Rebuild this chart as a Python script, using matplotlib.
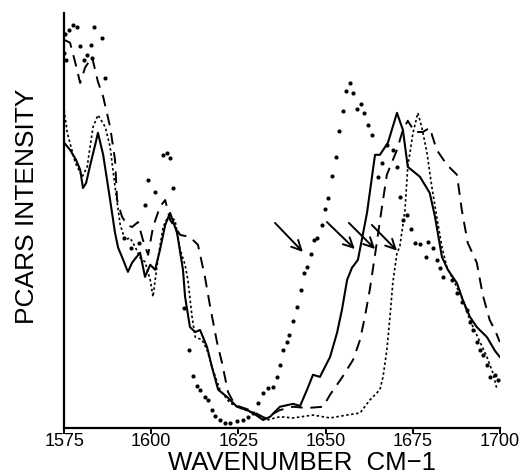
import numpy as np
import matplotlib
matplotlib.use('Agg')
import matplotlib.pyplot as plt

plt.rcParams['font.family'] = ['Liberation Sans', 'DejaVu Sans']

# ---------------------------------------------------------------------------
# Data (wavenumber [cm-1], intensity [arb. units])
# ---------------------------------------------------------------------------
solid_wn = [1575.0, 1576.7, 1578.4, 1579.6, 1580.4, 1581.3, 1582.5, 1583.9, 1584.7,
            1586.2, 1588.2, 1589.6, 1590.5, 1591.6, 1593.3, 1594.5, 1595.6, 1596.8,
            1598.2, 1599.7, 1601.1, 1602.5, 1604.0, 1605.4, 1607.4, 1609.1, 1609.7,
            1611.1, 1612.6, 1614.0, 1616.0, 1617.4, 1619.2, 1621.7, 1624.6, 1627.5,
            1629.2, 1632.1, 1634.1, 1636.9, 1640.7, 1642.7, 1644.7, 1646.4, 1648.4,
            1651.3, 1653.3, 1654.7, 1656.2, 1657.6, 1659.3, 1661.9, 1664.2, 1665.6,
            1667.9, 1670.5, 1672.2, 1673.6, 1677.1, 1679.9, 1681.4, 1683.4, 1685.1,
            1687.7, 1689.4, 1691.4, 1693.4, 1696.3, 1698.6, 1700.0]
solid_int = [68.7, 67.0, 64.6, 62.2, 57.8, 59.0, 63.4, 68.2, 71.1,
             65.8, 54.9, 47.0, 43.4, 41.2, 37.6, 39.8, 41.0, 42.2,
             36.4, 39.3, 38.1, 42.9, 48.9, 51.8, 47.0, 38.1, 31.6,
             24.3, 23.1, 23.6, 19.5, 14.7, 9.2, 7.5, 5.1, 4.3,
             3.6, 1.9, 2.7, 5.1, 5.8, 5.3, 9.2, 12.8, 12.3,
             17.1, 22.9, 28.4, 35.7, 38.6, 40.5, 51.8, 65.8, 65.8,
             68.7, 75.9, 71.8, 62.9, 60.5, 56.6, 50.9, 41.2, 38.1,
             34.9, 30.8, 26.8, 24.3, 21.9, 18.6, 17.1]

dashed_wn = [1575.0, 1576.7, 1578.2, 1579.6, 1581.0, 1583.0, 1584.7, 1586.2, 1588.2,
             1589.6, 1590.2, 1591.6, 1593.1, 1594.5, 1596.2, 1597.6, 1599.1, 1600.5,
             1602.5, 1604.0, 1605.4, 1608.3, 1611.1, 1613.4, 1615.4, 1616.9, 1618.9,
             1620.3, 1622.0, 1624.0, 1628.3, 1632.6, 1636.9, 1640.7, 1644.7, 1649.3,
             1651.3, 1654.7, 1657.9, 1659.9, 1661.3, 1662.7, 1664.2, 1666.2, 1667.6,
             1670.5, 1672.2, 1673.6, 1675.6, 1677.9, 1679.9, 1681.9, 1684.8, 1687.7,
             1689.1, 1690.8, 1693.4, 1695.1, 1697.1, 1698.6, 1700.0]
dashed_int = [93.5, 92.8, 88.0, 83.1, 86.8, 89.4, 83.4, 79.8, 72.5,
              64.6, 54.9, 50.9, 48.9, 48.4, 49.6, 45.3, 41.7, 48.4,
              53.3, 54.9, 50.1, 46.5, 46.0, 44.1, 36.4, 29.2, 20.5,
              15.7, 8.7, 5.5, 4.3, 2.4, 4.3, 5.1, 4.8, 5.1,
              8.0, 12.1, 16.4, 21.2, 26.8, 33.3, 41.7, 53.3, 61.0,
              67.0, 71.8, 74.0, 71.3, 71.3, 72.3, 67.0, 63.4, 61.0,
              52.5, 44.6, 39.8, 32.1, 26.0, 23.6, 20.7]

dotted_wn = [1575.0, 1575.9, 1578.2, 1580.2, 1581.6, 1583.3, 1584.7, 1586.8, 1588.2,
             1589.6, 1591.1, 1592.5, 1593.9, 1595.4, 1596.8, 1598.2, 1599.7, 1600.5,
             1602.0, 1603.4, 1604.8, 1606.8, 1608.3, 1609.7, 1610.5, 1611.7, 1612.6,
             1614.6, 1616.0, 1617.4, 1619.7, 1622.6, 1625.5, 1628.3, 1631.2, 1633.2,
             1636.9, 1640.7, 1646.4, 1651.3, 1656.1, 1659.9, 1662.7, 1665.6, 1666.5,
             1667.6, 1668.5, 1669.3, 1670.5, 1671.3, 1672.8, 1673.6, 1675.1, 1676.5,
             1677.6, 1679.1, 1680.5, 1681.9, 1683.4, 1684.8, 1687.1, 1689.4, 1691.4,
             1693.4, 1695.1, 1696.3, 1698.0, 1699.1]
dotted_int = [76.6, 71.1, 63.9, 60.5, 62.9, 72.5, 75.4, 72.5, 67.7,
              58.1, 48.9, 45.3, 45.8, 43.6, 41.0, 40.0, 35.7, 31.6,
              41.2, 48.4, 50.9, 50.1, 42.9, 39.3, 35.7, 26.8, 21.9,
              21.2, 18.8, 14.7, 9.2, 6.0, 4.8, 3.9, 2.7, 1.9,
              2.7, 2.4, 3.1, 2.4, 3.1, 3.6, 6.7, 9.2, 12.3,
              18.8, 26.8, 34.9, 42.2, 43.6, 52.5, 62.9, 71.1, 75.9,
              72.5, 66.3, 58.1, 50.9, 43.6, 38.8, 34.9, 30.8, 26.0,
              22.4, 19.3, 17.1, 13.3, 9.6]

dots_wn = [1575.0, 1575.3, 1575.6, 1576.4, 1577.6, 1578.7, 1579.6, 1580.7, 1581.6,
           1582.7, 1583.0, 1583.6, 1585.9, 1586.8, 1592.2, 1594.2, 1596.5, 1598.2,
           1599.1, 1601.1, 1603.4, 1604.5, 1605.4, 1606.3, 1609.4, 1610.8, 1612.0,
           1613.1, 1614.0, 1615.4, 1616.3, 1617.4, 1618.3, 1619.7, 1621.2, 1622.6,
           1624.6, 1626.3, 1627.8, 1629.2, 1630.6, 1632.1, 1633.5, 1635.0, 1636.1,
           1636.9, 1637.8, 1638.9, 1639.5, 1640.7, 1641.8, 1642.9, 1643.8, 1644.7,
           1645.8, 1646.7, 1647.5, 1649.0, 1649.8, 1650.7, 1651.8, 1653.0, 1653.8,
           1655.0, 1655.8, 1657.0, 1657.9, 1659.0, 1660.1, 1661.0, 1662.2, 1663.3,
           1665.0, 1666.2, 1667.6, 1669.3, 1670.5, 1671.3, 1672.2, 1673.3, 1674.5,
           1675.6, 1677.1, 1678.8, 1679.4, 1680.8, 1681.9, 1682.8, 1683.7, 1686.2,
           1687.7, 1689.1, 1690.5, 1691.4, 1692.3, 1693.4, 1694.3, 1695.1, 1696.3,
           1697.1, 1698.6, 1699.4]
dots_int = [90.4, 95.0, 88.7, 95.9, 97.1, 96.6, 92.1, 88.7, 89.9,
            92.3, 89.2, 96.6, 94.0, 84.4, 45.8, 43.4, 44.6, 53.7,
            59.8, 56.9, 65.8, 66.3, 65.1, 57.8, 28.9, 18.8, 12.5,
            10.1, 9.2, 7.5, 6.7, 4.3, 2.9, 1.9, 1.2, 1.2,
            1.7, 1.9, 2.7, 3.6, 6.0, 8.4, 9.6, 9.9, 12.3,
            15.2, 18.8, 20.7, 22.4, 25.8, 29.2, 33.3, 37.4, 38.8,
            41.9, 45.3, 45.8, 48.9, 52.8, 55.4, 60.7, 65.3, 71.6,
            76.4, 81.2, 83.1, 80.7, 76.9, 78.1, 75.9, 73.0, 70.6,
            60.5, 63.9, 68.2, 67.0, 62.9, 55.7, 50.1, 51.3, 48.0,
            44.6, 44.3, 41.2, 44.8, 43.4, 40.5, 38.6, 36.4, 35.7,
            32.5, 30.4, 28.4, 25.5, 23.6, 20.7, 18.8, 17.6, 15.2,
            12.3, 12.8, 11.6]

# arrows: (tail wn, tail int, head wn, head int)
arrows = [
    (1635.5, 49.4, 1643.5, 42.4),
    (1650.4, 49.6, 1658.4, 43.1),
    (1656.7, 49.4, 1664.2, 43.1),
    (1663.3, 48.9, 1670.5, 42.7),
]

xticks = [1575, 1600, 1625, 1650, 1675, 1700]

# ---------------------------------------------------------------------------
fig = plt.figure(figsize=(5.30, 4.76), dpi=100)
ax = fig.add_axes([0.121, 0.101, 0.822, 0.872])

ax.plot(solid_wn, solid_int, color='black', lw=1.5, ls='-')
ax.plot(dashed_wn, dashed_int, color='black', lw=1.4, ls=(0, (6, 4)))
ax.plot(dotted_wn, dotted_int, color='black', lw=1.2, ls=(0, (1.5, 1.5)))
ax.plot(dots_wn, dots_int, 'o', color='black', ms=3.0, mew=0)

for x0, y0, x1, y1 in arrows:
    ax.annotate('', xy=(x1, y1), xytext=(x0, y0),
                arrowprops=dict(arrowstyle='->,head_length=0.7,head_width=0.35',
                                color='black', lw=1.4, shrinkA=0, shrinkB=0))

ax.set_xlim(1575, 1700)
ax.set_ylim(0, 100)
ax.set_xticks(xticks)
ax.set_yticks([])
ax.tick_params(axis='x', direction='out', length=4, width=1.4, pad=0, labelsize=13)

for side in ['top', 'right']:
    ax.spines[side].set_visible(False)
for side in ['left', 'bottom']:
    ax.spines[side].set_linewidth(1.6)

ax.set_xlabel('WAVENUMBER  CM\u22121', fontsize=18.5)
ax.xaxis.set_label_coords(0.546, -0.056)
ax.set_ylabel('PCARS INTENSITY', fontsize=19)
ax.yaxis.set_label_coords(-0.058, 0.533)

fig.savefig('out.png', dpi=100)
